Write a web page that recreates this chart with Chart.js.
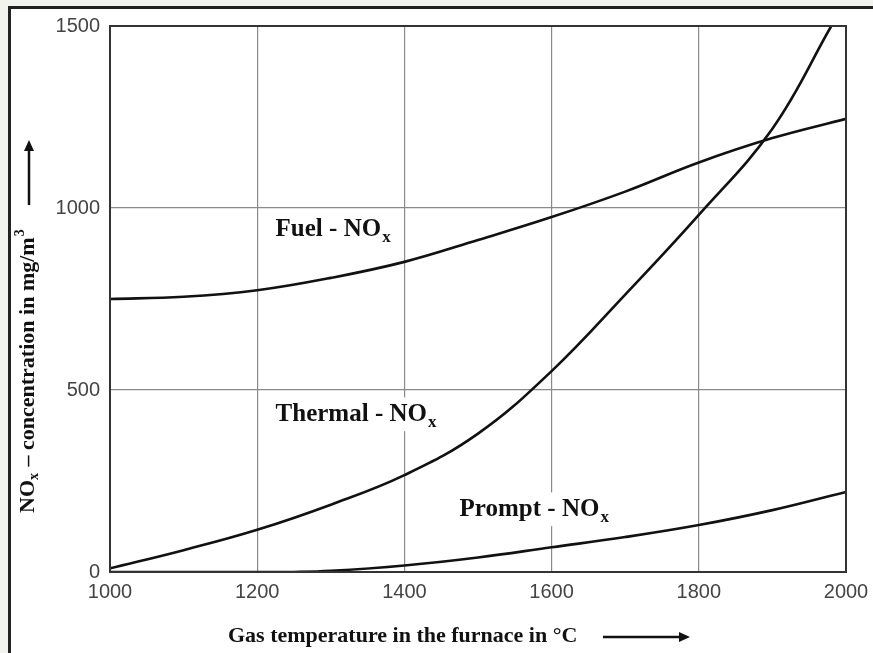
<!DOCTYPE html>
<html>
<head>
<meta charset="utf-8">
<script src="https://cdn.jsdelivr.net/npm/chart.js@4.4.1/dist/chart.umd.min.js"></script>
<style>
  html, body { margin: 0; padding: 0; background: #f2f2ee; overflow: hidden; }
  #frame {
    position: absolute; left: 8px; top: 6px; width: 880px; height: 660px;
    background: #fff; border-left: 3px solid #222; border-top: 3px solid #222;
  }
  #chart { position: absolute; left: 0; top: 0; }
</style>
</head>
<body>
<div id="frame"></div>
<canvas id="chart" width="873" height="653"></canvas>
<script>
// Gas temperature (°C) and NOx concentration (mg/m³)
const fuelTemps = [1000, 1100, 1200, 1300, 1400, 1500, 1600, 1700, 1800, 1900, 2000];
const fuelNOx = [750, 756, 774, 808, 852, 912, 975, 1045, 1125, 1192, 1245];

const thermalTemps = [1000, 1100, 1200, 1300, 1400, 1500, 1600, 1700, 1800, 1900, 1980];
const thermalNOx = [10, 60, 116, 185, 266, 380, 552, 762, 981, 1218, 1500];

const promptTemps = [1000, 1100, 1200, 1250, 1300, 1400, 1500, 1600, 1700, 1800, 1900, 2000];
const promptNOx = [0, 0, 0, 0, 3, 18, 40, 68, 96, 129, 170, 220];

const xTicks = [1000, 1200, 1400, 1600, 1800, 2000];
const yTicks = [0, 500, 1000, 1500];

// curve labels, anchored in data units (left edge, vertical middle)
const curveLabels = [
    { main: 'Fuel - NO', sub: 'x', temp: 1225, conc: 945 },
    { main: 'Thermal - NO', sub: 'x', temp: 1225, conc: 437 },
    { main: 'Prompt - NO', sub: 'x', temp: 1475, conc: 176 }
];

const toPoints = (xs, ys) => xs.map((x, i) => ({ x: x, y: ys[i] }));

const lineStyle = {
    borderColor: '#111',
    borderWidth: 2.6,
    pointRadius: 0,
    fill: false,
    tension: 0.4
};

const SERIF = '"Liberation Serif", "Times New Roman", serif';

function drawSubText(ctx, main, sub, x, y, size, bg) {
    const font = `bold ${size}px ${SERIF}`;
    const subFont = `bold ${Math.round(size * 0.68)}px ${SERIF}`;
    ctx.font = font;
    const w1 = ctx.measureText(main).width;
    ctx.font = subFont;
    const w2 = ctx.measureText(sub).width;
    if (bg) {
        ctx.fillStyle = '#fff';
        ctx.fillRect(x - 4, y - size * 0.62, w1 + w2 + 10, size * 1.35);
    }
    ctx.fillStyle = '#111';
    ctx.textBaseline = 'alphabetic';
    ctx.textAlign = 'left';
    ctx.font = font;
    ctx.fillText(main, x, y + size * 0.33);
    ctx.font = subFont;
    ctx.fillText(sub, x + w1 + 1, y + size * 0.55);
    return w1 + w2;
}

function arrow(ctx, x1, y1, x2, y2) {
    const ang = Math.atan2(y2 - y1, x2 - x1);
    const head = 11;
    ctx.save();
    ctx.strokeStyle = '#111';
    ctx.fillStyle = '#111';
    ctx.lineWidth = 2.5;
    ctx.beginPath();
    ctx.moveTo(x1, y1);
    ctx.lineTo(x2 - Math.cos(ang) * head * 0.8, y2 - Math.sin(ang) * head * 0.8);
    ctx.stroke();
    ctx.beginPath();
    ctx.moveTo(x2, y2);
    ctx.lineTo(x2 - head * Math.cos(ang) + 5 * Math.sin(ang), y2 - head * Math.sin(ang) - 5 * Math.cos(ang));
    ctx.lineTo(x2 - head * Math.cos(ang) - 5 * Math.sin(ang), y2 - head * Math.sin(ang) + 5 * Math.cos(ang));
    ctx.closePath();
    ctx.fill();
    ctx.restore();
}

const decorations = {
    id: 'decorations',
    afterDatasetsDraw(chart) {
        const ctx = chart.ctx;
        const area = chart.chartArea;
        const xs = chart.scales.x;
        const ys = chart.scales.y;

        // plot frame
        ctx.save();
        ctx.strokeStyle = '#333';
        ctx.lineWidth = 2;
        ctx.strokeRect(area.left, area.top, area.right - area.left, area.bottom - area.top);

        // curve labels
        curveLabels.forEach(l => {
            drawSubText(ctx, l.main, l.sub, xs.getPixelForValue(l.temp), ys.getPixelForValue(l.conc), 25, true);
        });

        // x axis title with arrow
        const xTitleY = 636;
        ctx.font = `bold 22px ${SERIF}`;
        ctx.fillStyle = '#111';
        ctx.textAlign = 'left';
        ctx.textBaseline = 'middle';
        ctx.fillText('Gas temperature in the furnace in °C', 228, xTitleY);
        arrow(ctx, 603, xTitleY + 1, 690, xTitleY + 1);

        // y axis title (rotated) with arrow
        ctx.translate(28, 0);
        ctx.rotate(-Math.PI / 2);
        let cx = -513;
        ctx.font = `bold 22px ${SERIF}`;
        ctx.fillText('NO', cx, 0);
        cx += ctx.measureText('NO').width;
        ctx.font = `bold 14px ${SERIF}`;
        ctx.fillText('x', cx, 6);
        cx += ctx.measureText('x').width + 1;
        ctx.font = `bold 22px ${SERIF}`;
        const rest = ' \u2013 concentration in mg/m';
        ctx.fillText(rest, cx, 0);
        cx += ctx.measureText(rest).width;
        ctx.font = `bold 14px ${SERIF}`;
        ctx.fillText('3', cx + 1, -8);
        ctx.restore();
        arrow(ctx, 29, 205, 29, 140);
    }
};

new Chart(document.getElementById('chart'), {
    type: 'line',
    data: {
        datasets: [
            Object.assign({ label: 'Fuel - NOx', data: toPoints(fuelTemps, fuelNOx) }, lineStyle),
            Object.assign({ label: 'Thermal - NOx', data: toPoints(thermalTemps, thermalNOx) }, lineStyle),
            Object.assign({ label: 'Prompt - NOx', data: toPoints(promptTemps, promptNOx) }, lineStyle)
        ]
    },
    options: {
        responsive: false,
        animation: false,
        layout: { padding: { left: 0, top: 26, right: 27, bottom: 0 } },
        plugins: {
            legend: { display: false },
            tooltip: { enabled: false }
        },
        scales: {
            x: {
                type: 'linear',
                min: 1000,
                max: 2000,
                afterFit: scale => {
                    scale.height = 81;
                    scale.paddingLeft = 0;
                    scale.paddingRight = 0;
                },
                afterBuildTicks: scale => { scale.ticks = xTicks.map(v => ({ value: v })); },
                grid: { color: '#8a8a8a', lineWidth: 1.2, drawTicks: false },
                border: { color: '#333', width: 2 },
                ticks: {
                    padding: 8,
                    color: '#444',
                    font: { family: '"Liberation Sans", Arial, sans-serif', size: 20 },
                    callback: v => String(v)
                }
            },
            y: {
                min: 0,
                max: 1500,
                afterFit: scale => {
                    scale.width = 110;
                    scale.paddingTop = 0;
                    scale.paddingBottom = 0;
                },
                afterBuildTicks: scale => { scale.ticks = yTicks.map(v => ({ value: v })); },
                grid: { color: '#8a8a8a', lineWidth: 1.2, drawTicks: false },
                border: { color: '#333', width: 2 },
                ticks: {
                    padding: 10,
                    color: '#444',
                    font: { family: '"Liberation Sans", Arial, sans-serif', size: 20 },
                    callback: v => String(v)
                }
            }
        }
    },
    plugins: [decorations]
});
</script>
</body>
</html>
